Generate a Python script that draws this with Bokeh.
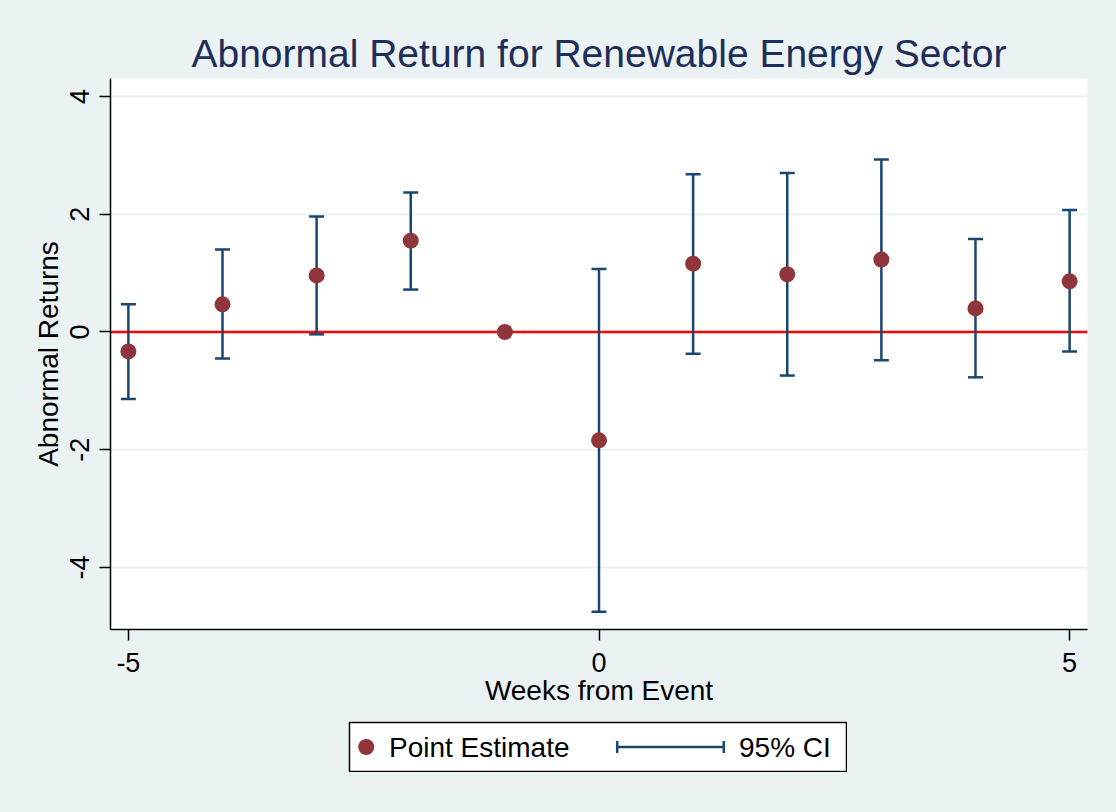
from bokeh.plotting import figure
from bokeh.models import Range1d, FixedTicker, Whisker, TeeHead, Span, ColumnDataSource, Spacer
from bokeh.layouts import column, row
from bokeh.core.properties import value
from bokeh.embed import file_html
from bokeh.resources import INLINE

# ---- data ----
weeks = [-5, -4, -3, -2, -1, 0, 1, 2, 3, 4, 5]
estimate = [-0.33, 0.47, 0.96, 1.55, 0.00, -1.84, 1.16, 0.98, 1.23, 0.40, 0.86]
ci_lower = [-1.14, -0.45, -0.04, 0.72, 0.00, -4.75, -0.37, -0.74, -0.48, -0.77, -0.33]
ci_upper = [0.47, 1.40, 1.96, 2.37, 0.00, 1.07, 2.68, 2.70, 2.93, 1.58, 2.07]
x_ticks = [-5, 0, 5]
y_ticks = [-4, -2, 0, 2, 4]
title_text = "Abnormal Return for Renewable Energy Sector"
x_label = "Weeks from Event"
y_label = "Abnormal Returns"
legend_labels = ["Point Estimate", "95% CI"]

BG = "#EAF2F3"
NAVY = "#1A476F"
MAROON = "#90353B"
TITLE_C = "#1E2D59"
FONT = "Liberation Sans"

src = ColumnDataSource(dict(week=weeks, est=estimate, lower=ci_lower, upper=ci_upper))

p = figure(frame_width=977, frame_height=551, output_backend="svg", toolbar_location=None,
           x_range=Range1d(-5.19, 5.19), y_range=Range1d(-5.053, 4.305),
           min_border_left=110, min_border_right=29, min_border_top=78, min_border_bottom=85,
           background_fill_color="white", border_fill_color=BG, outline_line_color=None)

p.title.text = title_text
p.title.text_font = FONT
p.title.text_font_size = "39px"
p.title.text_font_style = "normal"
p.title.text_color = TITLE_C
p.title.align = "center"
p.title.standoff = 8

p.xgrid.visible = False
p.ygrid.grid_line_color = BG
p.ygrid.grid_line_width = 2

p.xaxis.ticker = FixedTicker(ticks=x_ticks)
p.yaxis.ticker = FixedTicker(ticks=y_ticks)
p.xaxis.major_label_overrides = {t: str(t) for t in x_ticks}
p.yaxis.major_label_overrides = {t: str(t) for t in y_ticks}
for ax in (p.xaxis, p.yaxis):
    ax.minor_tick_line_color = None
    ax.major_tick_out = 11
    ax.major_tick_in = 0
    ax.major_tick_line_width = 1.5
    ax.major_tick_line_color = "black"
    ax.axis_line_color = "black"
    ax.axis_line_width = 1.5
    ax.major_label_text_font = FONT
    ax.major_label_text_font_size = "27px"
    ax.major_label_text_color = "black"
    ax.axis_label_text_font = FONT
    ax.axis_label_text_font_size = "28px"
    ax.axis_label_text_font_style = "normal"
    ax.axis_label_text_color = "black"
p.xaxis.axis_label = x_label
p.yaxis.axis_label = y_label
p.yaxis.major_label_orientation = "vertical"
p.xaxis.major_label_standoff = 12
p.yaxis.major_label_standoff = 10
p.xaxis.axis_label_standoff = 0
p.yaxis.axis_label_standoff = 4

zero = Span(location=0, dimension="width", line_color="red", line_width=2.5, level="underlay")
p.add_layout(zero)

wk = Whisker(source=src, base="week", upper="upper", lower="lower", dimension="height",
             line_color=NAVY, line_width=2.5, level="underlay",
             upper_head=TeeHead(size=15, line_color=NAVY, line_width=2.5),
             lower_head=TeeHead(size=15, line_color=NAVY, line_width=2.5))
p.add_layout(wk)

p.scatter("week", "est", source=src, size=16, fill_color=MAROON, line_color=None)

# ---- legend box ----
lg = figure(frame_width=497, frame_height=49, output_backend="svg", toolbar_location=None,
            x_range=Range1d(0, 497), y_range=Range1d(0, 49),
            min_border_left=1, min_border_right=1, min_border_top=1, min_border_bottom=1,
            x_axis_location=None, y_axis_location=None,
            background_fill_color="white", border_fill_color=BG,
            outline_line_color="black", outline_line_width=1.5)
lg.grid.visible = False
lg.scatter([16.7], [24.5], size=16, fill_color=MAROON, line_color=None)
lg.text([39.5], [24.5], text=[legend_labels[0]], text_font=value(FONT), text_font_size="28px",
        text_baseline="middle", text_color="black")
lg.segment(x0=[267.7], y0=[24.5], x1=[374.3], y1=[24.5], line_color=NAVY, line_width=2.5)
lg.segment(x0=[267.7, 374.3], y0=[18.5, 18.5], x1=[267.7, 374.3], y1=[30.5, 30.5],
           line_color=NAVY, line_width=2.5)
lg.text([389.5], [24.5], text=[legend_labels[1]], text_font=value(FONT), text_font_size="28px",
        text_baseline="middle", text_color="black")

layout = column(p, Spacer(height=7, width=10), row(Spacer(width=348, height=10), lg, spacing=0), spacing=0)
html = file_html(layout, INLINE, title="Abnormal Return")
html = html.replace("</head>", "<style>html, body {background-color: " + BG + ";}</style></head>")
open("out.html", "w").write(html)
